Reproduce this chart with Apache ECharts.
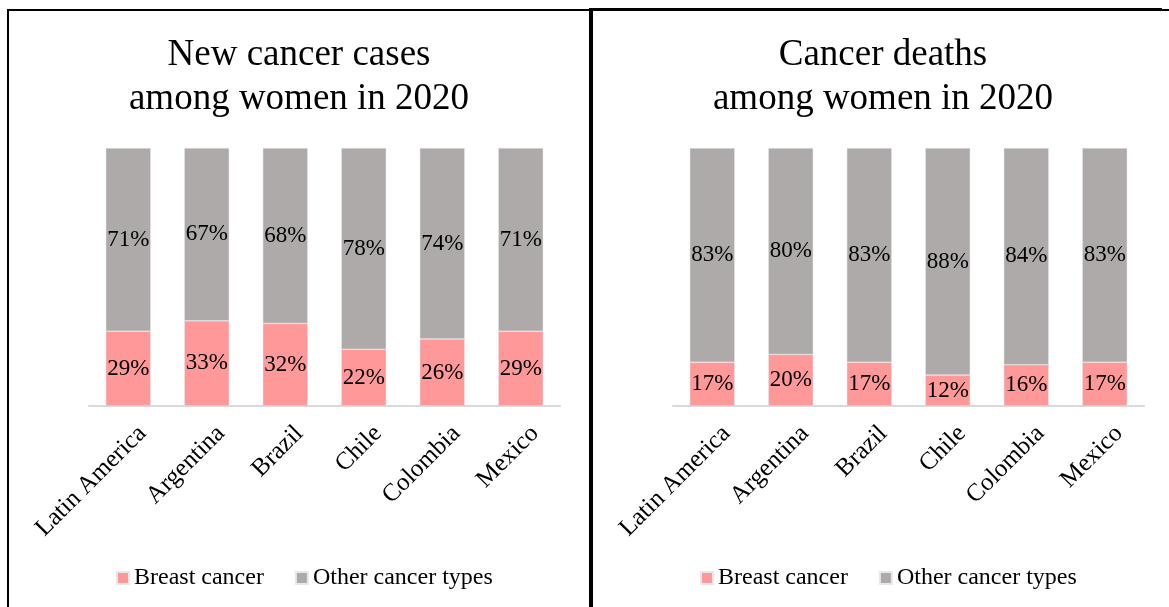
<!DOCTYPE html>
<html>
<head>
<meta charset="utf-8">
<title>Cancer among women in Latin America, 2020</title>
<script src="https://cdn.jsdelivr.net/npm/echarts@6/dist/echarts.min.js"></script>
<style>
  html, body { margin: 0; padding: 0; background: #fff; }
  #chart { width: 1169px; height: 607px; }
</style>
</head>
<body>
<div id="chart"></div>
<script>
// Countries shown in both panels
const categories = ['Latin America', 'Argentina', 'Brazil', 'Chile', 'Colombia', 'Mexico'];

// Share of new cancer cases among women (%)
const casesBreast = [29, 33, 32, 22, 26, 29];
const casesOther = [71, 67, 68, 78, 74, 71];

// Share of cancer deaths among women (%)
const deathsBreast = [17, 20, 17, 12, 16, 17];
const deathsOther = [83, 80, 83, 88, 84, 83];

const seriesNames = ['Breast cancer', 'Other cancer types'];
const titles = ['New cancer cases\namong women in 2020', 'Cancer deaths\namong women in 2020'];

const FONT = '"Liberation Serif", "Times New Roman", serif';
const PINK = '#ff9999';
const GREY = '#aeaaaa';

const panels = [
  { gridLeft: 89, titleX: 294, legendLeft: 116, breast: casesBreast, other: casesOther },
  { gridLeft: 673, titleX: 878, legendLeft: 700, breast: deathsBreast, other: deathsOther }
];

const chart = echarts.init(document.getElementById('chart'), null, { renderer: 'canvas' });

const option = {
  backgroundColor: '#ffffff',
  animation: false,
  color: [PINK, GREY],
  textStyle: { fontFamily: FONT },
  title: panels.map((p, i) => ({
    text: titles[i],
    left: p.titleX,
    top: 28,
    textAlign: 'center',
    textStyle: { fontFamily: FONT, fontSize: 37, fontWeight: 'normal', color: '#000', lineHeight: 44 }
  })),
  legend: panels.map((p, i) => ({
    data: seriesNames.map(n => ({ name: n })),
    left: p.legendLeft,
    top: 566,
    icon: 'rect',
    itemWidth: 12,
    itemHeight: 12,
    itemGap: 31,
    padding: 0,
    selectedMode: false,
    textStyle: { fontFamily: FONT, fontSize: 24, color: '#000' },
    seriesIndex: [i * 2, i * 2 + 1]
  })),
  grid: panels.map(p => ({
    left: p.gridLeft,
    width: 471,
    top: 148,
    height: 258,
    containLabel: false
  })),
  xAxis: panels.map((p, i) => ({
    type: 'category',
    gridIndex: i,
    data: categories,
    axisLine: { show: true, lineStyle: { color: '#d9d9d9', width: 2 } },
    axisTick: { show: false },
    axisLabel: {
      rotate: 45,
      margin: 38,
      interval: 0,
      // negative right padding slides each rotated label along its baseline
      padding: [0, -20, 0, 0],
      fontFamily: FONT,
      fontSize: 25,
      color: '#000'
    }
  })),
  yAxis: panels.map((p, i) => ({
    type: 'value',
    gridIndex: i,
    min: 0,
    max: 100,
    show: false,
    splitLine: { show: false }
  })),
  series: [],
  graphic: [
    // panel frame
    { type: 'rect', shape: { x: 7, y: 9, width: 1162, height: 2 }, style: { fill: '#000' }, z: 100 },
    { type: 'rect', shape: { x: 589, y: 8, width: 1162 - 589, height: 3 }, style: { fill: '#000' }, z: 100 },
    { type: 'rect', shape: { x: 7, y: 9, width: 2, height: 600 }, style: { fill: '#000' }, z: 100 },
    { type: 'rect', shape: { x: 589, y: 8, width: 4, height: 600 }, style: { fill: '#000' }, z: 100 }
  ]
};

panels.forEach((p, i) => {
  [p.breast, p.other].forEach((vals, k) => {
    option.series.push({
      name: seriesNames[k],
      type: 'bar',
      stack: 'share' + i,
      xAxisIndex: i,
      yAxisIndex: i,
      barWidth: 45,
      data: vals,
      itemStyle: { color: k === 0 ? PINK : GREY, borderColor: '#e8e8e8', borderWidth: 0.5 },
      label: {
        show: true,
        position: 'inside',
        formatter: '{c}%',
        fontFamily: FONT,
        fontSize: 23,
        color: '#000'
      }
    });
  });
});

chart.setOption(option);
</script>
</body>
</html>
